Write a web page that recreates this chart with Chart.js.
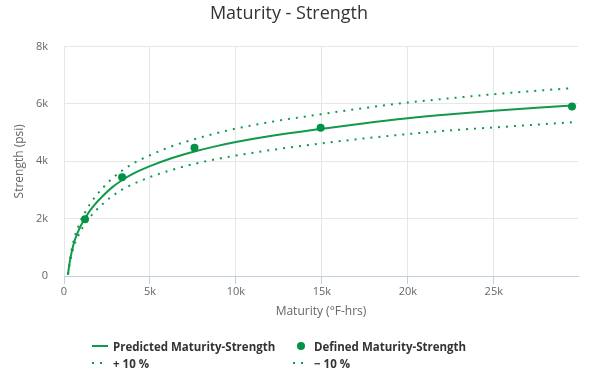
<!DOCTYPE html>
<html>
<head>
<meta charset="utf-8">
<script src="https://cdn.jsdelivr.net/npm/chart.js@4/dist/chart.umd.min.js"></script>
<style>
  html, body { margin: 0; padding: 0; background: #fff; }
  #wrap { position: relative; width: 603px; height: 381px; }
  #legend { position: absolute; left: 0; top: 0; width: 603px; height: 381px; pointer-events: none;
    font-family: "Open Sans", "Liberation Sans", sans-serif; font-weight: bold; font-size: 11.5px; color: #333; }
  .item { position: absolute; white-space: nowrap; display: flex; align-items: center; height: 16px; }
  .item svg { margin-right: 5px; }
</style>
</head>
<body>
<div id="wrap">
  <canvas id="c" width="603" height="381"></canvas>
  <div id="legend"></div>
</div>
<script>
// ---- data ----
const chartTitle = "Maturity - Strength";
const xAxisTitle = "Maturity (°F-hrs)";
const yAxisTitle = "Strength (psi)";
const xTickValues = [0, 5000, 10000, 15000, 20000, 25000];
const yTickValues = [0, 2000, 4000, 6000, 8000];

// Predicted curve samples (maturity, strength) and the ±10 % bands
const curveMaturity = [230, 300, 400, 500, 620, 800, 1000, 1220, 1500, 1800, 2270, 2800, 3370, 4000, 5000, 6160, 7590, 8800, 10000, 12000, 14930, 17500, 20000, 22500, 25000, 27500, 29550];
const predictedStrength = [50, 360, 700, 980, 1240, 1520, 1780, 2010, 2270, 2500, 2800, 3090, 3340, 3560, 3830, 4090, 4340, 4520, 4670, 4880, 5130, 5330, 5500, 5640, 5760, 5870, 5950];
const plus10Strength = [55, 400, 770, 1080, 1360, 1670, 1960, 2210, 2500, 2750, 3080, 3400, 3670, 3920, 4210, 4500, 4770, 4970, 5140, 5370, 5640, 5860, 6050, 6200, 6340, 6460, 6550];
const minus10Strength = [45, 320, 630, 880, 1120, 1370, 1600, 1810, 2040, 2250, 2520, 2780, 3010, 3200, 3450, 3680, 3910, 4070, 4200, 4390, 4620, 4800, 4950, 5080, 5180, 5280, 5360];

// Defined points
const definedMaturity = [1220, 3380, 7590, 14930, 29550];
const definedStrength = [1980, 3440, 4470, 5170, 5910];

const seriesNames = ["Predicted Maturity-Strength", "Defined Maturity-Strength", "+ 10 %", "− 10 %"];

// ---- styles ----
const green = '#119a4b';
const dotGreen = '#009245';
const gridColor = '#e6e6e6';
const axisLineColor = '#C0D0E0';
const fontFam = '"Open Sans", "Liberation Sans", sans-serif';

const toXY = (xs, ys) => xs.map((x, i) => ({ x: x, y: ys[i] }));
const kFmt = v => v === 0 ? '0' : (v / 1000) + 'k';

const chart = new Chart(document.getElementById('c'), {
  type: 'line',
  data: {
    datasets: [
      { label: seriesNames[0], data: toXY(curveMaturity, predictedStrength), borderColor: green, backgroundColor: green,
        borderWidth: 2, pointRadius: 0, cubicInterpolationMode: 'monotone', order: 2 },
      { label: seriesNames[1], data: toXY(definedMaturity, definedStrength), showLine: false, borderColor: dotGreen,
        backgroundColor: dotGreen, pointRadius: 4, pointHoverRadius: 4, pointBorderWidth: 0, order: 1 },
      { label: seriesNames[2], data: toXY(curveMaturity, plus10Strength), borderColor: green, borderWidth: 2,
        borderDash: [2, 6], borderCapStyle: 'butt', pointRadius: 0, cubicInterpolationMode: 'monotone', order: 3 },
      { label: seriesNames[3], data: toXY(curveMaturity, minus10Strength), borderColor: green, borderWidth: 2,
        borderDash: [2, 6], borderCapStyle: 'butt', pointRadius: 0, cubicInterpolationMode: 'monotone', order: 3 }
    ]
  },
  options: {
    responsive: false,
    animation: false,
    devicePixelRatio: 1,
    layout: { padding: { left: 0, right: 25, top: 0, bottom: 61 } },
    plugins: {
      legend: { display: false },
      tooltip: { enabled: false },
      title: {
        display: true, text: chartTitle, color: '#333',
        font: { family: fontFam, size: 18, weight: 'normal' },
        padding: { top: 3, bottom: 22 }
      }
    },
    scales: {
      x: {
        type: 'linear', min: 0, max: 29900,
        afterBuildTicks: s => { s.ticks = xTickValues.map(v => ({ value: v })); },
        afterFit: s => { s.height = 44; },
        grid: { color: gridColor, drawTicks: true, tickLength: 8, tickColor: axisLineColor },
        border: { display: true, color: axisLineColor },
        ticks: { color: '#666', font: { family: fontFam, size: 11 }, padding: 1, callback: kFmt, maxRotation: 0 },
        title: { display: true, text: xAxisTitle, color: '#666', font: { family: fontFam, size: 12 }, padding: { top: 0, bottom: 1 } }
      },
      y: {
        type: 'linear', min: 0, max: 8000,
        afterBuildTicks: s => { s.ticks = yTickValues.map(v => ({ value: v })); },
        afterFit: s => { s.width = 64; },
        grid: { color: gridColor, drawTicks: false },
        border: { display: false },
        ticks: { color: '#666', font: { family: fontFam, size: 11 }, padding: 16, callback: kFmt },
        title: { display: true, text: yAxisTitle, color: '#666', font: { family: fontFam, size: 12 }, padding: { top: 12, bottom: 0 } }
      }
    }
  }
});

// ---- HTML legend laid out like the reference (two columns, two rows) ----
const legendEl = document.getElementById('legend');
const symLine = '<svg width="16" height="10"><line x1="0" y1="5" x2="16" y2="5" stroke="' + green + '" stroke-width="2"/></svg>';
const symDot = '<svg width="16" height="10"><circle cx="8" cy="5" r="4" fill="' + dotGreen + '"/></svg>';
const symDash = '<svg width="16" height="10"><line x1="0" y1="5" x2="16" y2="5" stroke="' + green + '" stroke-width="2" stroke-dasharray="2,6"/></svg>';
const legendItems = [
  { sym: symLine, text: seriesNames[0], left: 92, top: 338 },
  { sym: symDot, text: seriesNames[1], left: 293, top: 338 },
  { sym: symDash, text: seriesNames[2], left: 92, top: 355 },
  { sym: symDash, text: seriesNames[3], left: 293, top: 355 }
];
legendItems.forEach(it => {
  const d = document.createElement('div');
  d.className = 'item';
  d.style.left = it.left + 'px';
  d.style.top = it.top + 'px';
  d.innerHTML = it.sym + '<span>' + it.text + '</span>';
  legendEl.appendChild(d);
});
</script>
</body>
</html>
